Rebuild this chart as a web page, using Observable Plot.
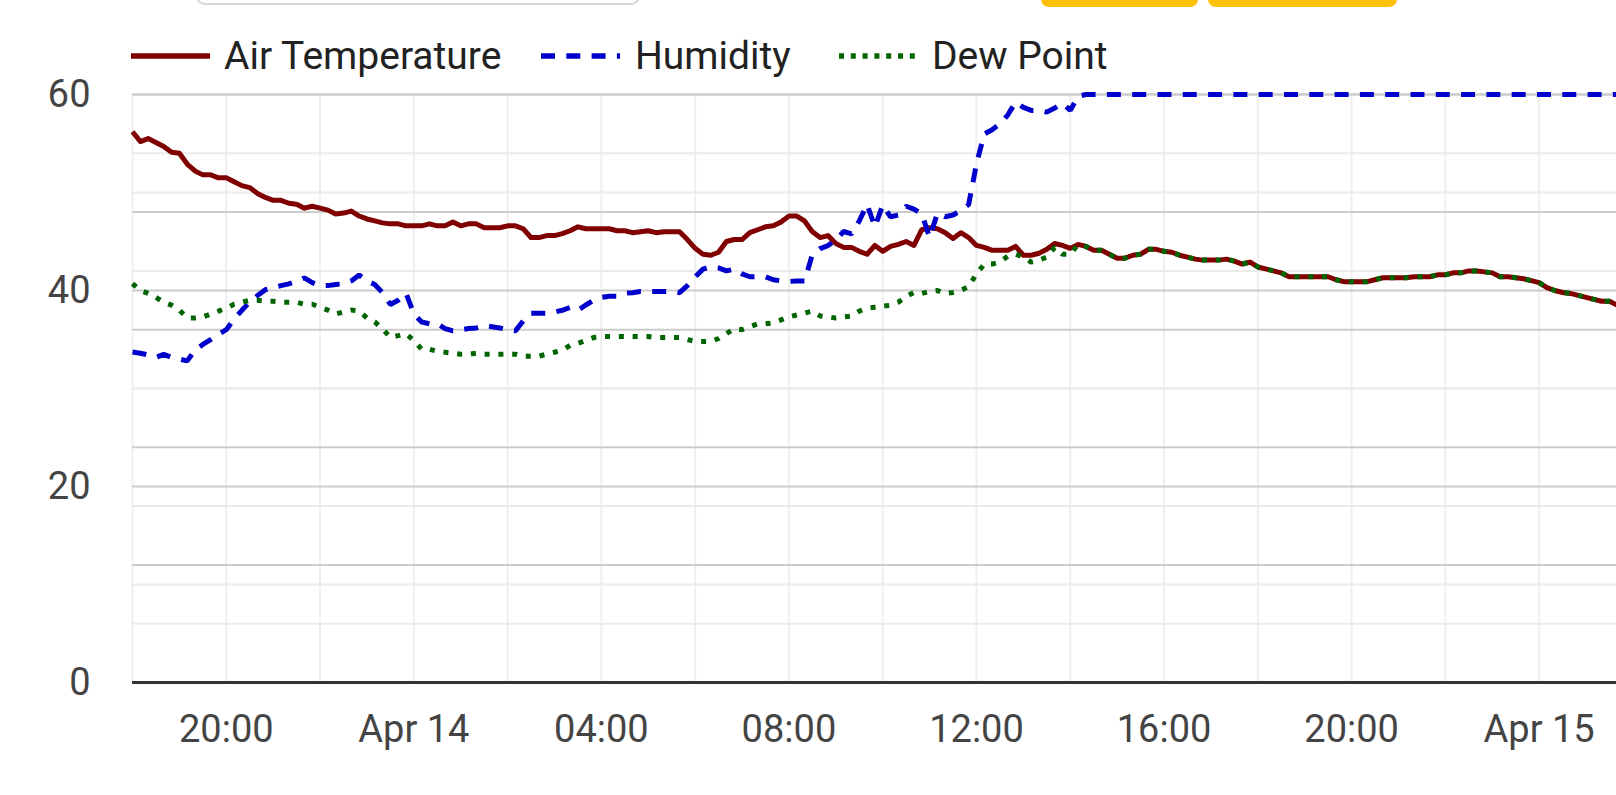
<!DOCTYPE html>
<html>
<head>
<meta charset="utf-8">
<script src="https://cdn.jsdelivr.net/npm/d3@7"></script>
<script src="https://cdn.jsdelivr.net/npm/@observablehq/plot@0.6"></script>
<style>
  html, body { margin: 0; padding: 0; background: #fff; overflow: hidden; width: 1616px; height: 795px; }
  #wrap { position: relative; width: 1616px; height: 795px; }
  #chart { position: absolute; left: 0; top: 0; }
  .legend-text { position: absolute; top: 37px; line-height: 39px; font-family: Roboto, sans-serif; font-size: 39px; color: #222; white-space: nowrap; }
  .decor-box { position: absolute; left: 196px; top: -20px; width: 440px; height: 21px; border: 2px solid #d3d5d8; border-radius: 9px; }
  .decor-btn { position: absolute; top: -12px; height: 19px; background: #FFC107; border-radius: 8px; }
</style>
</head>
<body>
<div id="wrap">
  <div id="chart"></div>
  <div class="decor-box"></div>
  <div class="decor-btn" style="left:1041px;width:157px"></div>
  <div class="decor-btn" style="left:1208px;width:189px"></div>
  <svg id="legend-swatches" width="1616" height="20" style="position:absolute;left:0;top:46px"></svg>
</div>
<script>
// ---- Data (10-minute readings starting Apr 13, 18:00) ----
const seriesNames = ["Air Temperature", "Humidity", "Dew Point"];

const airTemperature = [
  56.2, 55.2, 55.5, 55.1, 54.7, 54.1, 54.0, 52.9, 52.2, 51.8,
  51.8, 51.5, 51.5, 51.1, 50.7, 50.5, 49.9, 49.5, 49.2, 49.2,
  48.9, 48.8, 48.4, 48.6, 48.4, 48.2, 47.8, 47.9, 48.1, 47.6,
  47.3, 47.1, 46.9, 46.8, 46.8, 46.6, 46.6, 46.6, 46.8, 46.6,
  46.6, 47.0, 46.6, 46.8, 46.8, 46.4, 46.4, 46.4, 46.6, 46.6,
  46.3, 45.4, 45.4, 45.6, 45.6, 45.8, 46.1, 46.5, 46.3, 46.3,
  46.3, 46.3, 46.1, 46.1, 45.9, 46.0, 46.1, 45.9, 46.0, 46.0,
  46.0, 45.2, 44.3, 43.7, 43.6, 43.9, 45.0, 45.2, 45.2, 45.9,
  46.2, 46.5, 46.6, 47.0, 47.6, 47.6, 47.1, 46.0, 45.4, 45.6,
  44.8, 44.4, 44.4, 44.0, 43.7, 44.6, 44.0, 44.5, 44.7, 45.0,
  44.6, 46.2, 46.4, 46.3, 45.9, 45.3, 45.9, 45.4, 44.6, 44.4,
  44.1, 44.1, 44.1, 44.5, 43.6, 43.6, 43.8, 44.2, 44.8, 44.6,
  44.3, 44.7, 44.5, 44.1, 44.1, 43.7, 43.3, 43.3, 43.6, 43.7,
  44.2, 44.2, 44.0, 43.9, 43.6, 43.4, 43.2, 43.1, 43.1, 43.1,
  43.2, 43.0, 42.7, 42.9, 42.4, 42.2, 42.0, 41.8, 41.4, 41.4,
  41.4, 41.4, 41.4, 41.4, 41.1, 40.9, 40.9, 40.9, 40.9, 41.1,
  41.3, 41.3, 41.3, 41.3, 41.4, 41.4, 41.4, 41.6, 41.6, 41.8,
  41.8, 42.0, 42.0, 41.9, 41.8, 41.4, 41.4, 41.3, 41.2, 41.0,
  40.8, 40.3, 40.0, 39.8, 39.7, 39.5, 39.3, 39.1, 38.9, 38.9,
  38.5
];

// Humidity in percent (right axis 0–100 %)
const humidity = [
  56.2, 56.0, 55.7, 55.3, 55.8, 55.3, 55.0, 54.7, 56.5, 57.5,
  58.3, 59.2, 60.0, 61.8, 63.3, 64.7, 65.8, 66.8, 67.2, 67.5,
  67.8, 68.2, 68.8, 68.0, 67.5, 67.5, 67.7, 67.8, 68.3, 69.3,
  68.3, 67.7, 66.3, 64.3, 65.0, 66.2, 62.7, 61.3, 61.0, 61.0,
  60.2, 59.8, 60.0, 60.2, 60.3, 60.7, 60.5, 60.3, 60.0, 59.8,
  61.5, 62.8, 62.8, 62.8, 63.0, 63.3, 63.8, 63.3, 64.2, 65.0,
  65.5, 65.7, 65.7, 66.2, 66.3, 66.5, 66.5, 66.5, 66.5, 66.5,
  66.3, 67.5, 69.0, 70.3, 70.7, 70.5, 70.0, 70.3, 69.5, 69.0,
  69.0, 69.0, 68.5, 68.3, 68.2, 68.3, 68.3, 72.8, 73.8, 74.3,
  75.3, 76.7, 76.3, 78.5, 81.3, 77.5, 81.2, 79.2, 79.5, 81.0,
  80.5, 79.7, 75.7, 79.8, 79.2, 79.5, 80.3, 81.3, 88.2, 93.3,
  94.0, 95.0, 96.5, 98.7, 97.8, 97.3, 97.3, 97.0, 97.7, 98.5,
  97.3, 99.7, 100, 100, 100, 100, 100, 100, 100, 100,
  100, 100, 100, 100, 100, 100, 100, 100, 100, 100,
  100, 100, 100, 100, 100, 100, 100, 100, 100, 100,
  100, 100, 100, 100, 100, 100, 100, 100, 100, 100,
  100, 100, 100, 100, 100, 100, 100, 100, 100, 100,
  100, 100, 100, 100, 100, 100, 100, 100, 100, 100,
  100, 100, 100, 100, 100, 100, 100, 100, 100, 100,
  100
];

const dewPoint = [
  40.7, 40.0, 39.7, 39.3, 38.8, 38.5, 38.0, 37.2, 37.2, 37.3,
  37.6, 37.9, 38.2, 38.6, 38.8, 39.0, 39.0, 38.9, 38.9, 38.8,
  38.8, 38.8, 38.6, 38.6, 38.3, 38.0, 37.6, 37.8, 38.0, 37.9,
  37.2, 36.8, 36.1, 35.2, 35.4, 35.6, 34.9, 34.0, 34.0, 33.8,
  33.7, 33.6, 33.5, 33.5, 33.6, 33.5, 33.5, 33.5, 33.5, 33.5,
  33.3, 33.3, 33.3, 33.5, 33.7, 33.9, 34.4, 34.6, 34.9, 35.2,
  35.3, 35.3, 35.3, 35.3, 35.3, 35.3, 35.3, 35.2, 35.2, 35.2,
  35.2, 35.0, 34.8, 34.8, 34.8, 35.1, 35.6, 36.1, 36.0, 36.3,
  36.6, 36.6, 36.7, 37.0, 37.3, 37.5, 37.7, 37.9, 37.4, 37.3,
  37.2, 37.3, 37.4, 37.9, 38.2, 38.3, 38.4, 38.5, 38.8, 39.4,
  39.8, 39.7, 39.9, 40.0, 39.7, 39.8, 40.0, 40.4, 41.7, 42.7,
  42.7, 42.9, 43.5, 43.7, 43.4, 42.9, 43.1, 43.4, 44.4, 43.7,
  43.7, 44.7, 44.5, 44.1, 44.1, 43.7, 43.3, 43.3, 43.6, 43.7,
  44.2, 44.2, 44.0, 43.9, 43.6, 43.4, 43.2, 43.1, 43.1, 43.1,
  43.2, 43.0, 42.7, 42.9, 42.4, 42.2, 42.0, 41.8, 41.4, 41.4,
  41.4, 41.4, 41.4, 41.4, 41.1, 40.9, 40.9, 40.9, 40.9, 41.1,
  41.3, 41.3, 41.3, 41.3, 41.4, 41.4, 41.4, 41.6, 41.6, 41.8,
  41.8, 42.0, 42.0, 41.9, 41.8, 41.4, 41.4, 41.3, 41.2, 41.0,
  40.8, 40.3, 40.0, 39.8, 39.7, 39.5, 39.3, 39.1, 38.9, 38.9,
  38.5
];

const startTime = new Date(2024, 3, 13, 18, 0);
const endTime = new Date(2024, 3, 15, 1, 39);
const stepMinutes = 10;

const leftTicks = [0, 20, 40, 60];
const leftMinor = [10, 30, 50];
const rightMajor = [0, 20, 40, 60, 80, 100];   // humidity %
const rightMinor = [10, 30, 50, 70, 90];

// ---- Build table ----
const rows = airTemperature.map((v, i) => ({
  time: new Date(startTime.getTime() + i * stepMinutes * 60000),
  temp: v,
  hum: humidity[i],
  dew: dewPoint[i]
}));

const pctToLeft = p => p * 60 / 100;   // secondary axis 0–100 % aligned with 0–60

const xTicks = d3.timeHour.every(4).range(startTime, endTime);
const xGrid = d3.timeHour.every(2).range(startTime, endTime);
const fmtTime = d3.timeFormat("%H:%M");
const fmtDay = d3.timeFormat("%b %-d");
const tickFmt = d => (d.getHours() === 0 ? fmtDay(d) : fmtTime(d));

const colors = { temp: "#800000", hum: "#0000cd", dew: "#006400" };

const chart = Plot.plot({
  width: 1616,
  height: 795,
  marginTop: 94,
  marginBottom: 113,
  marginLeft: 132,
  marginRight: 0,
  style: { fontFamily: "Roboto, sans-serif", fontSize: "38px", color: "#444", background: "white", overflow: "visible" },
  x: { type: "time", domain: [startTime, endTime], ticks: xTicks, tickFormat: tickFmt, tickSize: 0, tickPadding: 33, label: null },
  y: { domain: [0, 60], ticks: leftTicks, tickSize: 0, tickPadding: 42, label: null },
  marks: [
    Plot.ruleX(xGrid, { stroke: "#efefef", strokeWidth: 2 }),
    Plot.ruleY(leftMinor, { stroke: "#ebebeb", strokeWidth: 2 }),
    Plot.ruleY(rightMinor, { y: pctToLeft, stroke: "#ebebeb", strokeWidth: 2 }),
    Plot.ruleY(leftTicks, { stroke: "#cccccc", strokeWidth: 2 }),
    Plot.ruleY(rightMajor, { y: pctToLeft, stroke: "#cccccc", strokeWidth: 2 }),
    Plot.ruleY([0], { stroke: "#333333", strokeWidth: 3 }),
    Plot.line(rows, { x: "time", y: "temp", stroke: colors.temp, strokeWidth: 5, strokeLinejoin: "round", strokeLinecap: "butt" }),
    Plot.line(rows, { x: "time", y: d => pctToLeft(d.hum), stroke: colors.hum, strokeWidth: 5, strokeDasharray: "14,11.3", strokeLinecap: "butt", strokeLinejoin: "miter" }),
    Plot.line(rows, { x: "time", y: "dew", stroke: colors.dew, strokeWidth: 5, strokeDasharray: "5,8.8", strokeLinecap: "butt", strokeLinejoin: "miter" })
  ]
});
document.getElementById("chart").appendChild(chart);

// ---- Legend ----
const legendItems = [
  { name: seriesNames[0], color: colors.temp, dash: null, x1: 131, x2: 210, tx: 224 },
  { name: seriesNames[1], color: colors.hum, dash: "14,11.3", x1: 541, x2: 620, tx: 635 },
  { name: seriesNames[2], color: colors.dew, dash: "5,6.8", x1: 839, x2: 917, tx: 932 }
];
const sw = d3.select("#legend-swatches");
const wrap = d3.select("#wrap");
legendItems.forEach(it => {
  sw.append("line")
    .attr("x1", it.x1).attr("x2", it.x2).attr("y1", 10).attr("y2", 10)
    .attr("stroke", it.color).attr("stroke-width", 5.7)
    .attr("stroke-dasharray", it.dash)
    .attr("stroke-linecap", "butt");
  wrap.append("div").attr("class", "legend-text").style("left", it.tx + "px").text(it.name);
});
</script>
</body>
</html>
